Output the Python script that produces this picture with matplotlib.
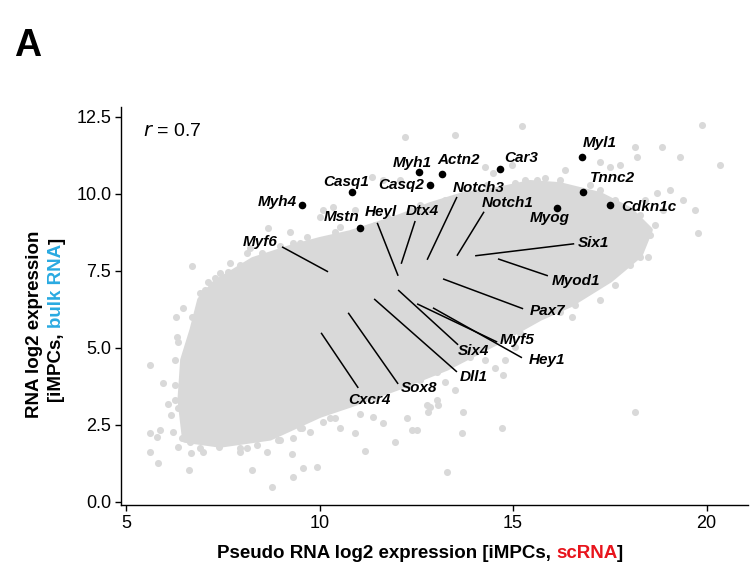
import matplotlib
matplotlib.use('Agg')
import matplotlib.pyplot as plt

plt.rcParams['font.family'] = ['Liberation Sans', 'DejaVu Sans']

# ---------------- data ----------------
# outline of the dense, fully-overlapping core of the grey cloud
core_x = [6.52, 6.40, 6.47, 6.71, 6.91, 7.30, 8.28, 9.24, 10.01, 10.79, 12.00, 12.86,
          13.71, 14.59, 15.44, 16.21, 17.25, 18.02, 18.54, 18.28, 17.51, 16.47, 15.70,
          14.59, 13.29, 12.00, 10.79, 10.01, 8.72, 7.43]
core_y = [2.01, 3.31, 4.61, 5.58, 6.56, 7.11, 7.86, 8.25, 8.51, 8.73, 9.22, 9.64,
          9.97, 10.13, 10.36, 10.29, 9.97, 9.48, 8.83, 8.02, 7.21, 6.40, 5.97,
          5.19, 4.35, 3.70, 3.15, 2.82, 2.08, 1.85]

# individual grey points outside / on the rim of the core
bg_x = [8.67, 9.24, 9.68, 10.01, 10.09, 8.13, 8.20, 8.72, 9.32, 7.69, 7.43, 7.12, 6.91,
        7.87, 8.33, 6.71,
        12.21, 13.50, 15.23, 14.28, 14.48, 14.97, 15.31, 15.62, 11.36, 11.64, 12.08,
        10.35, 10.92, 10.53, 11.23, 14.33, 14.92, 15.36,
        19.88, 20.35, 19.78, 18.15, 18.85, 19.32, 18.20, 17.25, 17.51, 17.77, 16.34,
        18.54, 18.28, 18.49, 19.06, 19.39, 18.72, 18.88, 19.70, 17.77, 17.95, 17.97,
        17.51, 17.69, 16.52, 18.15,
        16.60, 16.99, 16.21, 17.25, 17.64, 17.89, 18.28, 18.41, 18.67, 18.02, 17.64,
        17.25, 16.60, 17.77, 17.38,
        13.29, 11.18, 11.95, 10.92, 12.39, 12.52, 13.68, 14.72, 13.71, 12.26, 11.64,
        11.38, 11.05, 10.40, 10.53, 12.80, 12.86, 13.06, 13.04, 12.78, 13.50, 13.24,
        12.73, 13.04, 14.74, 14.53, 14.79, 14.28, 15.05, 12.26, 11.90,
        5.62, 5.96, 6.27, 6.09, 6.27, 6.16, 6.34, 5.62, 5.88, 5.80, 6.21, 6.45, 6.34,
        5.62, 5.83, 6.65, 6.68, 6.63, 6.99, 7.40, 6.89, 7.12, 6.27, 6.32, 6.34, 6.29,
        6.71, 6.86, 7.12, 6.47, 6.99, 6.60, 6.65, 6.58, 6.60, 6.78, 6.96,
        8.26, 8.77, 9.32, 9.57, 9.94, 9.29, 8.64, 8.38, 7.95, 7.43, 8.13, 8.33, 8.93,
        9.32, 9.55, 9.75, 10.09, 10.01,
        7.04, 7.30, 7.64, 7.95, 8.51, 8.98, 9.50, 10.40, 11.43, 11.77, 12.34, 12.60,
        13.24, 14.02, 15.05, 15.83, 10.27, 9.50, 8.98, 7.95, 6.91, 16.21, 15.18,
        13.89, 12.60, 11.43]
bg_y = [8.90, 8.77, 8.60, 9.25, 9.48, 8.08, 8.25, 7.96, 8.41, 7.76, 7.44, 7.14, 6.79,
        7.21, 7.63, 7.66,
        11.85, 11.92, 12.21, 10.88, 10.68, 10.94, 10.46, 10.46, 10.55, 10.46, 10.46,
        9.58, 9.48, 8.93, 8.83, 10.29, 10.13, 9.81,
        12.24, 10.94, 8.73, 11.53, 11.53, 11.20, 11.20, 11.04, 10.88, 10.94, 10.78,
        8.67, 7.96, 7.96, 10.13, 9.81, 10.03, 9.48, 9.48, 8.12, 9.06, 8.73,
        8.60, 8.51, 6.01, 2.92,
        10.13, 10.29, 10.46, 10.13, 9.81, 9.48, 9.32, 9.81, 8.99, 7.70, 7.05,
        6.56, 6.40, 9.32, 8.83,
        0.97, 1.66, 1.95, 2.24, 2.34, 2.34, 2.24, 2.40, 2.92, 2.73, 2.57,
        2.76, 2.86, 2.73, 2.40, 2.92, 3.08, 3.15, 3.31, 3.15, 3.64, 3.90,
        4.29, 4.22, 4.12, 4.35, 4.61, 4.61, 5.03, 3.80, 3.96,
        4.45, 3.86, 3.80, 3.18, 3.31, 2.82, 3.05, 2.24, 2.34, 2.11, 2.27, 2.08, 1.79,
        1.62, 1.27, 1.95, 1.59, 1.04, 1.62, 1.79, 2.24, 2.11, 4.61, 5.36, 5.20, 6.01,
        6.01, 5.49, 5.52, 6.30, 6.23, 3.57, 3.21, 4.22, 4.51, 3.96, 4.87,
        1.04, 0.49, 0.81, 1.10, 1.14, 1.56, 1.62, 1.85, 1.62, 2.18, 1.75, 2.08, 2.01,
        2.08, 2.40, 2.27, 2.60, 3.15,
        6.88, 7.27, 7.47, 7.70, 8.08, 8.31, 8.41, 8.77, 8.99, 9.22, 9.48, 9.64,
        9.81, 10.06, 10.36, 10.52, 2.73, 2.40, 2.01, 1.75, 1.75, 6.17, 5.49,
        4.71, 3.96, 3.38]

# highlighted genes (black dots)
hl_genes = ['Myh4', 'Casq1', 'Mstn', 'Myh1', 'Casq2', 'Actn2', 'Car3',
            'Myl1', 'Tnnc2', 'Cdkn1c', 'Myog']
hl_x = [9.55, 10.84, 11.05, 12.57, 12.86, 13.17, 14.66, 16.78, 16.81, 17.51, 16.14]
hl_y = [9.64, 10.06, 8.90, 10.71, 10.29, 10.65, 10.81, 11.20, 10.06, 9.64, 9.55]

# genes labelled via a segment (points inside the cloud)
seg_genes = ['Myf6', 'Heyl', 'Dtx4', 'Notch3', 'Notch1', 'Six1', 'Myod1', 'Pax7',
             'Myf5', 'Hey1', 'Six4', 'Dll1', 'Sox8', 'Cxcr4']
seg_x = [10.22, 12.03, 12.11, 12.78, 13.55, 14.02, 14.61, 13.19, 12.52, 12.93,
         12.03, 11.41, 10.74, 10.04]
seg_y = [7.47, 7.34, 7.73, 7.86, 7.99, 7.99, 7.89, 7.24, 6.43, 6.30,
         6.88, 6.59, 6.14, 5.49]

x_ticks = [5, 10, 15, 20]
y_ticks = [0.0, 2.5, 5.0, 7.5, 10.0, 12.5]
r_value = 0.7

# ---------------- layout (label placement) ----------------
hl_lab_x = [8.90, 10.68, 10.56, 12.39, 12.11, 13.58, 15.21, 17.25, 17.56, 18.51, 15.96]
hl_lab_y = [9.74, 10.39, 9.25, 11.01, 10.29, 11.10, 11.17, 11.66, 10.52, 9.58, 9.22]

seg_lab_x = [8.46, 11.59, 12.65, 14.10, 14.87, 17.09, 16.63, 15.88, 15.10, 15.88,
             13.97, 13.99, 12.57, 11.30]
seg_lab_y = [8.44, 9.42, 9.45, 10.19, 9.71, 8.41, 7.18, 6.20, 5.26, 4.61,
             4.90, 4.06, 3.70, 3.31]
seg_end_x = [9.03, 11.49, 12.47, 13.55, 14.25, 16.58, 15.90, 15.26, 14.59, 15.23,
             13.58, 13.55, 12.03, 11.00]
seg_end_y = [8.28, 9.06, 9.12, 9.90, 9.42, 8.38, 7.34, 6.27, 5.19, 4.68,
             5.10, 4.22, 3.83, 3.70]

GREY = '#d9d9d9'
W, H = 751, 581

fig = plt.figure(figsize=(W / 100, H / 100), dpi=100)
ax = fig.add_axes([121 / W, (H - 505) / H, (748 - 121) / W, (505 - 107) / H])

ax.fill(core_x, core_y, color=GREY, lw=4, ec=GREY, zorder=1, joinstyle='round')
ax.scatter(bg_x, bg_y, s=26, color=GREY, lw=0, zorder=2)

for gx, gy, ex, ey in zip(seg_x, seg_y, seg_end_x, seg_end_y):
    ax.plot([gx, ex], [gy, ey], color='black', lw=1.1, zorder=3, solid_capstyle='butt')
for name, lx, ly in zip(seg_genes, seg_lab_x, seg_lab_y):
    ax.text(lx, ly, name, fontsize=11, fontweight='bold', fontstyle='italic',
            ha='center', va='center', zorder=5)

ax.scatter(hl_x, hl_y, s=30, color='black', lw=0, zorder=4)
for name, lx, ly in zip(hl_genes, hl_lab_x, hl_lab_y):
    ax.text(lx, ly, name, fontsize=11, fontweight='bold', fontstyle='italic',
            ha='center', va='center', zorder=5)

ax.text(5.44, 12.01, r'$\it{r}$ = ' + f'{r_value}', fontsize=14, ha='left', va='center')

ax.set_xlim(4.87, 21.07)
ax.set_ylim(-0.10, 12.82)
ax.set_xticks(x_ticks)
ax.set_xticklabels([str(v) for v in x_ticks])
ax.set_yticks(y_ticks)
ax.set_yticklabels([f'{v:.1f}' for v in y_ticks])
for s in ['top', 'right']:
    ax.spines[s].set_visible(False)
for s in ['left', 'bottom']:
    ax.spines[s].set_linewidth(1.0)
ax.tick_params(direction='out', length=4, width=1, labelsize=13, pad=3, colors='black')


def multicolor(parts, cx, cy, rotation=0, **kw):
    first = fig.text(0.5, 0.5, parts[0][0], color=parts[0][1], rotation=rotation,
                     ha='left', va='bottom', **kw)
    texts = [first]
    prev = first
    for s, c in parts[1:]:
        xy = (1, 0) if rotation == 0 else (0, 1)
        t = ax.annotate(s, xy=xy, xycoords=prev, color=c, rotation=rotation,
                        ha='left', va='bottom', annotation_clip=False, **kw)
        texts.append(t)
        prev = t
    return first, texts, (cx, cy)


groups = []
groups.append(multicolor([('Pseudo RNA log2 expression [iMPCs, ', 'black'),
                          ('scRNA', '#e8141c'), (']', 'black')],
                         420, 553, rotation=0, fontsize=13.5, fontweight='bold'))
groups.append(multicolor([('[iMPCs, ', 'black'), ('bulk RNA', '#29aae1'), (']', 'black')],
                         57, 320, rotation=90, fontsize=13.5, fontweight='bold'))
fig.text(35 / W, 1 - 324 / H, 'RNA log2 expression', rotation=90, fontsize=13.5,
         fontweight='bold', ha='center', va='center')

fig.text(28 / W, 1 - 46 / H, 'A', fontsize=27, fontweight='bold', ha='center', va='center')

fig.canvas.draw()
r = fig.canvas.get_renderer()
for first, texts, (cx, cy) in groups:
    bbs = [t.get_window_extent(r) for t in texts]
    x0 = min(b.x0 for b in bbs); x1 = max(b.x1 for b in bbs)
    y0 = min(b.y0 for b in bbs); y1 = max(b.y1 for b in bbs)
    ccx = (x0 + x1) / 2; ccy = (y0 + y1) / 2
    tx, ty = cx, H - cy
    px, py = first.get_position()
    first.set_position((px + (tx - ccx) / W, py + (ty - ccy) / H))

fig.savefig('out.png', dpi=100)
